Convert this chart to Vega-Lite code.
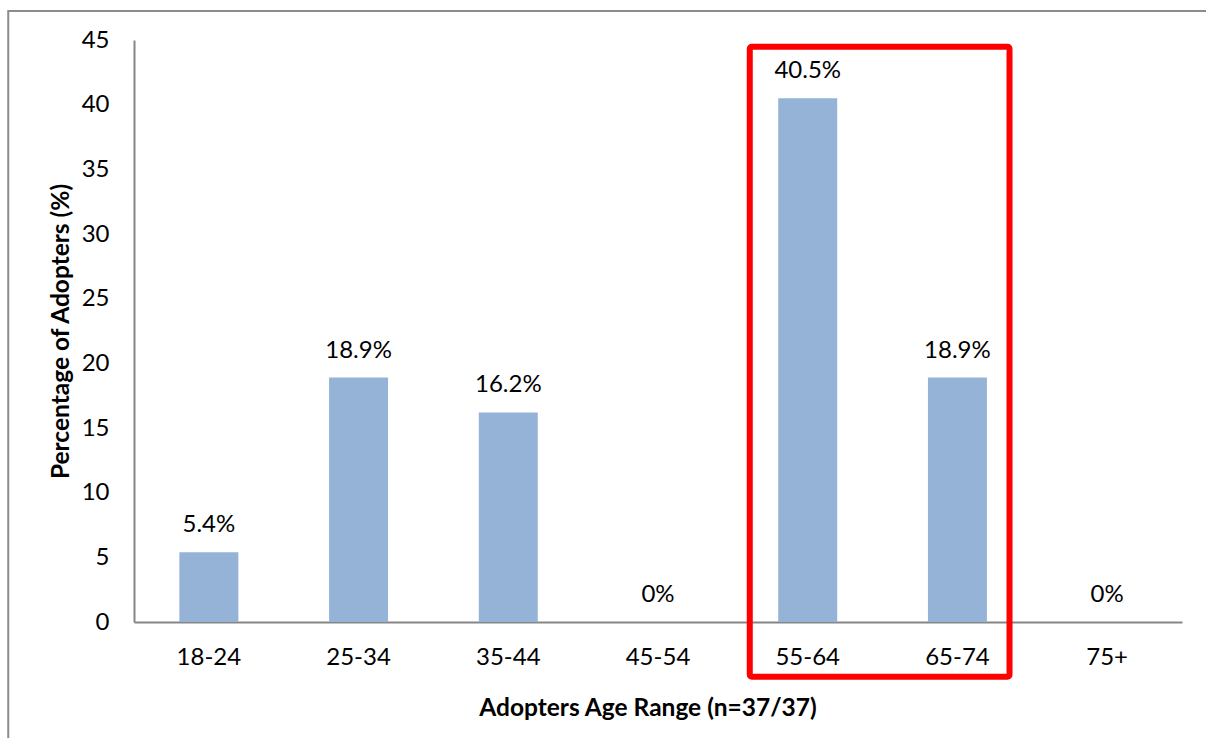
{
  "$schema": "https://vega.github.io/schema/vega-lite/v6.json",
  "width": 1048,
  "height": 582,
  "autosize": {"type": "none"},
  "padding": {"left": 134, "top": 40, "right": 24, "bottom": 116},
  "background": "white",
  "config": {"view": {"stroke": null}, "font": "Lato"},
  "datasets": {
    "ages": [
      {"age": "18-24", "pct": 5.4, "label": "5.4%"},
      {"age": "25-34", "pct": 18.9, "label": "18.9%"},
      {"age": "35-44", "pct": 16.2, "label": "16.2%"},
      {"age": "45-54", "pct": 0, "label": "0%"},
      {"age": "55-64", "pct": 40.5, "label": "40.5%"},
      {"age": "65-74", "pct": 18.9, "label": "18.9%"},
      {"age": "75+", "pct": 0, "label": "0%"}
    ],
    "border": [{"x0": -0.84, "x1": 8, "y0": -20, "y1": 47.24}],
    "highlight": [{"x0": 4.113, "x1": 5.848, "y0": -4.23, "y1": 44.48}]
  },
  "layer": [
    {
      "data": {"name": "ages"},
      "layer": [
        {
          "mark": {"type": "bar", "color": "#95B3D7"},
          "encoding": {
            "x": {
              "field": "age",
              "type": "nominal",
              "sort": null,
              "scale": {"paddingInner": 0.606, "paddingOuter": 0.303},
              "axis": {
                "title": "Adopters Age Range (n=37/37)",
                "titleFont": "Lato",
                "titleFontSize": 24.5,
                "titleFontWeight": "bold",
                "titleColor": "#000000",
                "titlePadding": 27,
                "titleX": 513.5,
                "titleAlign": "center",
                "labelFont": "Lato",
                "labelFontSize": 24,
                "labelColor": "#000000",
                "labelAngle": 0,
                "labelPadding": 23,
                "ticks": false,
                "tickSize": 0,
                "domainColor": "#868686",
                "domainWidth": 2,
                "grid": false
              }
            },
            "y": {
              "field": "pct",
              "type": "quantitative",
              "scale": {"domain": [0, 45], "nice": false},
              "axis": {
                "title": "Percentage of Adopters (%)",
                "titleFont": "Lato",
                "titleFontSize": 24.5,
                "titleFontWeight": "bold",
                "titleColor": "#000000",
                "titlePadding": 8,
                "values": [0, 5, 10, 15, 20, 25, 30, 35, 40, 45],
                "labelFont": "Lato",
                "labelFontSize": 24,
                "labelColor": "#000000",
                "labelPadding": 25,
                "ticks": false,
                "tickSize": 0,
                "domainColor": "#868686",
                "domainWidth": 2,
                "grid": false
              }
            }
          }
        },
        {
          "mark": {"type": "text", "font": "Lato", "fontSize": 24, "color": "#000000", "baseline": "middle", "dy": -27},
          "encoding": {
            "x": {"field": "age", "type": "nominal", "sort": null},
            "y": {"field": "pct", "type": "quantitative"},
            "text": {"field": "label", "type": "nominal"}
          }
        }
      ]
    },
    {
      "data": {"name": "border"},
      "mark": {"type": "rect", "fill": null, "stroke": "#8C8C8C", "strokeWidth": 2, "clip": false},
      "encoding": {
        "x": {"field": "x0", "type": "quantitative", "scale": {"domain": [0, 7], "nice": false, "zero": false}, "axis": null},
        "x2": {"field": "x1"},
        "y": {"field": "y0", "type": "quantitative"},
        "y2": {"field": "y1"}
      }
    },
    {
      "data": {"name": "highlight"},
      "mark": {"type": "rect", "fill": null, "stroke": "#FF0000", "strokeWidth": 6, "cornerRadius": 2, "clip": false},
      "encoding": {
        "x": {"field": "x0", "type": "quantitative", "scale": {"domain": [0, 7], "nice": false, "zero": false}, "axis": null},
        "x2": {"field": "x1"},
        "y": {"field": "y0", "type": "quantitative"},
        "y2": {"field": "y1"}
      }
    }
  ],
  "resolve": {"scale": {"x": "independent"}}
}
